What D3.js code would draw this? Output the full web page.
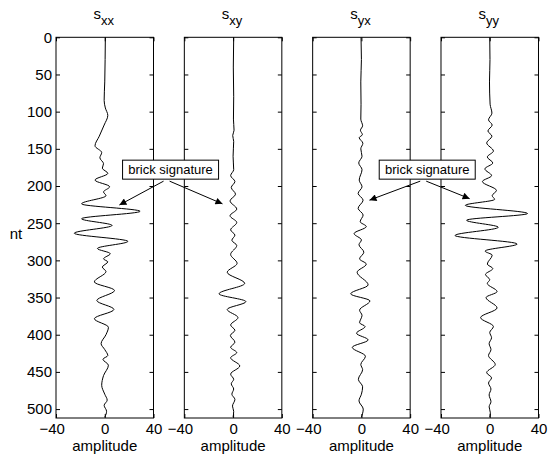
<!DOCTYPE html>
<html>
<head>
<meta charset="utf-8">
<script src="https://cdn.jsdelivr.net/npm/d3@7"></script>
<style>
  html, body { margin: 0; padding: 0; background: #fff; }
  svg { display: block; font-family: "Liberation Sans", Arial, Helvetica, sans-serif; }
</style>
</head>
<body>
<svg id="chart" width="548" height="458"></svg>
<script>
// Components of the scattering matrix, one panel each
const components = ["xx", "xy", "yx", "yy"];

// s_xx trace: time sample (nt) and amplitude at turning points
const sxxDepth = [0, 30, 60, 85, 95, 105, 118, 133, 146, 155, 162, 170, 176, 183, 192, 201, 208, 213, 224, 234, 244, 253, 263.5, 274.5, 284, 291, 298, 302, 309, 315, 329, 340.5, 354, 366, 378.5, 390, 400, 412, 420, 428, 433, 441, 455, 468, 480, 488, 495, 503, 511];
const sxxAmp   = [0.5, 0.3, 0, -0.5, 0.5, 2.5, -0.5, -4.5, -8, -2.5, -4, -1, -2, 2.5, -8, 4, -1, 1, -19, 29, -19, 6, -25, 19, -6, 4.5, -1, 2.5, -2, 1, -8.5, 8, -6.5, 7.5, -8.5, 3, 1, -3, 0, 2.5, -1.5, 3, -1, -2.5, 0, 2, -0.5, 1.5, 0];

// s_xy trace
const sxyDepth = [0, 40, 80, 110, 125, 132, 140, 160, 178, 186, 194, 202, 211, 220, 231, 240, 249, 259, 266, 273, 280, 292, 304, 316, 331, 345, 355.5, 366, 377, 387, 394, 401, 410, 417, 424, 431, 442, 453, 460, 466, 473, 480, 487, 496, 503, 511];
const sxyAmp   = [0.5, 0.2, 0.5, 0.3, 0.8, -0.3, 0.5, 0, 0.5, -2, 1.5, -1.5, 2, -2.5, 3, -2.5, 3, -2, 1.5, -1, 3, -2, 3.3, -4.8, 9.5, -11.5, 10.5, -4.8, 4, -2, 1.5, -2.2, 1.5, -2, 3, -2, 5.5, -2, 0.5, -1.5, 0.5, -1, 1.5, -0.5, 0.5, 0];

// s_yx trace
const syxDepth = [0, 30, 60, 90, 110, 119, 125, 131, 135, 142.5, 150, 160, 169, 178, 192, 201, 210, 219, 230, 239, 248, 254.5, 264, 272.5, 279, 289, 298, 305, 316, 333, 345, 354.5, 367, 374, 384, 389, 398, 407, 417, 429, 440, 447, 460, 470, 480, 489, 500, 511];
const syxAmp   = [-0.3, 0, -0.5, -0.3, -0.5, 1, -0.8, 0.8, -1.8, 1.2, -0.5, 0.5, -2.2, 0.5, -1.8, 0.5, -2.7, 1.4, -2.7, 1.4, -1, 4, -6, 0, -2, 2, -1.5, 4, -3.5, 5.5, -8.8, 7, -1.5, 0.5, -1.5, 3, -4, 5.5, -7.5, 3.3, -0.5, 1, -2.5, 1, 0, -2, 1.5, 0];

// s_yy trace
const syyDepth = [0, 30, 60, 90, 102, 111, 118, 126, 133, 142, 153, 161, 169, 177, 186, 194, 206, 213, 218, 226, 237, 246, 255.5, 266.5, 278, 287.5, 293, 305, 311, 319, 326, 331, 342, 350, 364, 377, 389, 397, 404, 412, 420, 428, 440, 451, 458, 465, 473, 481, 490, 497, 505, 511];
const syyAmp   = [0, 0.2, -0.2, 0.3, 1.8, -1, 2, -1.5, 1.8, -2.5, 3, -2, 2.5, -4, 1.5, -6, 5.5, 2, 4, -20, 31, -19, 7, -28.5, 22.5, -3.8, 2, -2, 2.5, -3.5, 0, -2, 6, -3, 6, -7.5, 3, 0, 1.5, -0.5, 1, -1, 4.5, -2.5, 1.5, -1, 1, -0.5, 1, -0.5, 0.5, 0];

const traceDepths = [sxxDepth, sxyDepth, syxDepth, syyDepth];
const traceAmps   = [sxxAmp, sxyAmp, syxAmp, syyAmp];

// Axis ticks
const depthTicks = [0, 50, 100, 150, 200, 250, 300, 350, 400, 450, 500];
const ampTicks = [-40, 0, 40];
const depthDomain = [0, 512];
const ampDomain = [-40, 40];

// Callouts: box anchored in panel (data units), arrows to neighbouring panels
const calloutText = "brick signature";
const calloutPanels = [0, 2];            // panel holding the box
const calloutBox = { amp: 54, nt: 178 };  // box centre in that panel's units
const calloutTargets = [                 // [panel, amp, nt] of arrow tips
  [[0, 12, 225.5], [1, -8.7, 224]],
  [[2, 6.6, 219], [3, -16.5, 217]]
];

// ---- layout ----
const svg = d3.select("#chart");
const panelLeft0 = 56, panelStep = 128.33, panelWidth = 97.5;
const plotTop = 37.3, plotBottom = 418;
const axisFont = 15, noteFont = 13, subFont = 13;
const fontStack = '"Liberation Sans", Arial, Helvetica, sans-serif';

const y = d3.scaleLinear().domain(depthDomain).range([plotTop, plotBottom]);
const xScales = components.map((c, i) => {
  const left = panelLeft0 + i * panelStep;
  return d3.scaleLinear().domain(ampDomain).range([left, left + panelWidth]);
});

svg.append("defs").append("marker")
  .attr("id", "arrowhead")
  .attr("markerUnits", "userSpaceOnUse")
  .attr("viewBox", "0 0 10 10")
  .attr("refX", 10).attr("refY", 5)
  .attr("markerWidth", 9).attr("markerHeight", 7)
  .attr("orient", "auto")
  .append("path").attr("d", "M0,0 L10,5 L0,10 Z").attr("fill", "#000");

// width of the digits of a label, used to hang the minus sign left of the tick
const probe = svg.append("text").attr("font-size", axisFont).attr("font-family", fontStack);
function digitsWidth(s) {
  probe.text(s);
  return probe.node().getComputedTextLength();
}

components.forEach((comp, i) => {
  const x = xScales[i];
  const g = svg.append("g").attr("class", "panel");

  g.append("rect")
    .attr("x", x.range()[0]).attr("y", plotTop)
    .attr("width", panelWidth).attr("height", plotBottom - plotTop)
    .attr("fill", "#fff");

  // trace
  const pts = traceDepths[i].map((d, k) => ({ nt: d, amp: traceAmps[i][k] }));
  const line = d3.line().x(d => x(d.amp)).y(d => y(d.nt)).curve(d3.curveMonotoneY);
  g.append("path").datum(pts)
    .attr("d", line)
    .attr("fill", "none").attr("stroke", "#000").attr("stroke-width", 1);

  // axes with inward ticks on all four sides
  const left = d3.axisLeft(y).tickValues(depthTicks).tickSizeInner(-4).tickSizeOuter(0).tickPadding(4);
  if (i > 0) left.tickFormat("");
  const gl = g.append("g").attr("transform", `translate(${x.range()[0]},0)`).call(left);
  const gr = g.append("g").attr("transform", `translate(${x.range()[1]},0)`)
    .call(d3.axisRight(y).tickValues(depthTicks).tickSizeInner(-4).tickSizeOuter(0).tickFormat(""));
  const gt = g.append("g").attr("transform", `translate(0,${plotTop})`)
    .call(d3.axisTop(x).tickValues(ampTicks).tickSizeInner(-4).tickSizeOuter(0).tickFormat(""));
  const gb = g.append("g").attr("transform", `translate(0,${plotBottom})`)
    .call(d3.axisBottom(x).tickValues(ampTicks).tickSizeInner(-4).tickSizeOuter(0).tickPadding(5.5));

  [gl, gr, gt, gb].forEach(a => {
    a.select(".domain").remove();
    a.selectAll("line").attr("stroke", "#000");
    a.selectAll("text").attr("font-size", axisFont).attr("fill", "#000")
      .attr("font-family", fontStack);
  });

  // negative labels: digits centred on the tick, minus sign hanging left
  gb.selectAll(".tick text").each(function (d) {
    if (d < 0) {
      const w = digitsWidth(String(Math.abs(d)));
      d3.select(this).attr("text-anchor", "end").attr("x", w / 2);
    }
  });

  // frame
  g.append("rect")
    .attr("x", x.range()[0]).attr("y", plotTop)
    .attr("width", panelWidth).attr("height", plotBottom - plotTop)
    .attr("fill", "none").attr("stroke", "#000").attr("stroke-width", 1);

  // title s_{comp}
  const t = g.append("text")
    .attr("x", x(0) - 1).attr("y", 18.5)
    .attr("text-anchor", "middle").attr("font-size", axisFont);
  t.append("tspan").text("s");
  t.append("tspan").attr("dy", 6.5).attr("font-size", subFont).text(comp);

  // x label
  g.append("text")
    .attr("x", x(0)).attr("y", 451)
    .attr("text-anchor", "middle").attr("font-size", axisFont)
    .text("amplitude");
});
probe.remove();

// y label
svg.append("text")
  .attr("x", 16).attr("y", 239)
  .attr("text-anchor", "middle").attr("font-size", axisFont)
  .text("nt");

// callouts
calloutPanels.forEach((p, ci) => {
  const cx = xScales[p](calloutBox.amp), cy = y(calloutBox.nt);
  const bw = 96, bh = 19;
  const gc = svg.append("g").attr("class", "callout");
  const tails = [cx - 7, cx - 1];
  calloutTargets[ci].forEach(([tp, amp, nt], k) => {
    gc.append("line")
      .attr("x1", tails[k]).attr("y1", cy + bh / 2 + 2)
      .attr("x2", xScales[tp](amp)).attr("y2", y(nt))
      .attr("stroke", "#000").attr("stroke-width", 1)
      .attr("marker-end", "url(#arrowhead)");
  });
  gc.append("rect")
    .attr("x", cx - bw / 2).attr("y", cy - bh / 2)
    .attr("width", bw).attr("height", bh)
    .attr("fill", "#fff").attr("stroke", "#000").attr("stroke-width", 1);
  gc.append("text")
    .attr("x", cx).attr("y", cy + 4.5)
    .attr("text-anchor", "middle").attr("font-size", noteFont)
    .text(calloutText);
});
</script>
</body>
</html>
